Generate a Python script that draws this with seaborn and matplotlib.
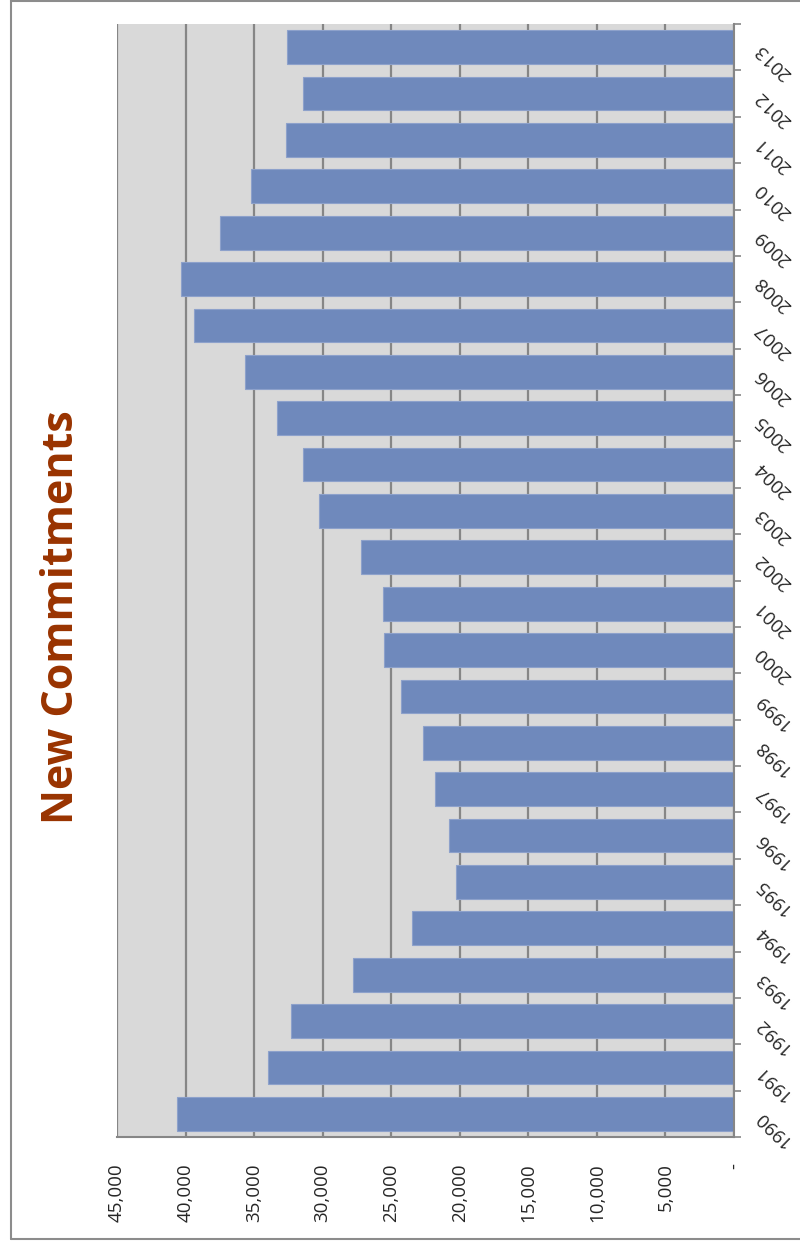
import numpy as np
import pandas as pd
import matplotlib
matplotlib.use('Agg')
import matplotlib.pyplot as plt
import seaborn as sns
from matplotlib.lines import Line2D
from matplotlib.ticker import FixedLocator, FuncFormatter

# Veri
years = [str(y) for y in range(1990, 2014)]
commitments = [40600, 34000, 32300, 27800, 23500, 20300, 20800, 21800,
               22700, 24300, 25500, 25600, 27200, 30300, 31400, 33300,
               35700, 39400, 40300, 37500, 35200, 32700, 31400, 32600]
value_ticks = list(range(0, 45001, 5000))

sns.set_style('white')
plt.rcParams['font.family'] = ['Open Sans', 'DejaVu Sans']

df = pd.DataFrame({'year': years, 'value': commitments})

fig = plt.figure(figsize=(8, 12.44), dpi=100)
ax = fig.add_axes([117/800, 1 - 1137/1244, (734 - 117)/800, (1137 - 24)/1244])
ax.set_facecolor('#d9d9d9')

sns.barplot(data=df, x='value', y='year', order=years[::-1], orient='h',
            color='#6f89bc', saturation=1, width=0.73, ax=ax,
            edgecolor='#8da1cb', linewidth=0.8)

ax.set_xlim(45000, 0)
ax.set_ylim(len(years) - 0.5, -0.5)
ax.set_xlabel('')
ax.set_ylabel('')

# Izgara
ax.set_axisbelow(True)
ax.xaxis.set_major_locator(FixedLocator(value_ticks))
ax.xaxis.grid(True, color='#868686', lw=1.6)
ax.yaxis.grid(False)
ax.xaxis.set_major_formatter(FuncFormatter(lambda v, p: '-' if v == 0 else f'{int(v):,}'))
ax.tick_params(axis='x', direction='out', length=5, width=1.2, color='#868686',
               pad=14, labelsize=13.5, labelrotation=90)

# Kategori ekseni sagda
ax.yaxis.tick_right()
ax.yaxis.set_minor_locator(FixedLocator(np.arange(-0.5, len(years), 1)))
ax.tick_params(axis='y', which='major', length=0, pad=17, labelsize=13.5)
ax.tick_params(axis='y', which='minor', direction='out', length=5, width=1.2,
               color='#868686', right=True, left=False)
plt.setp(ax.get_yticklabels(), rotation=136, rotation_mode='anchor',
         ha='right', va='center')

for side in ['left', 'top']:
    ax.spines[side].set_visible(False)
for side in ['right', 'bottom']:
    ax.spines[side].set_color('#868686')
    ax.spines[side].set_linewidth(1.5)

# Baslik
fig.text(62/800, 1 - 617/1244, 'New Commitments', rotation=90, ha='center',
         va='center', fontsize=31, fontweight='bold', color='#993300')

# Cerceve
fc = '#8c8c8c'
fig.add_artist(Line2D([11/800, 11/800], [1 - 1239/1244, 1], color=fc, lw=1.5))
fig.add_artist(Line2D([11/800, 1], [1 - 1239/1244, 1 - 1239/1244], color=fc, lw=1.5))
fig.add_artist(Line2D([11/800, 1], [1 - 0.8/1244, 1 - 0.8/1244], color=fc, lw=1.5))

fig.savefig('out.png', dpi=100)
